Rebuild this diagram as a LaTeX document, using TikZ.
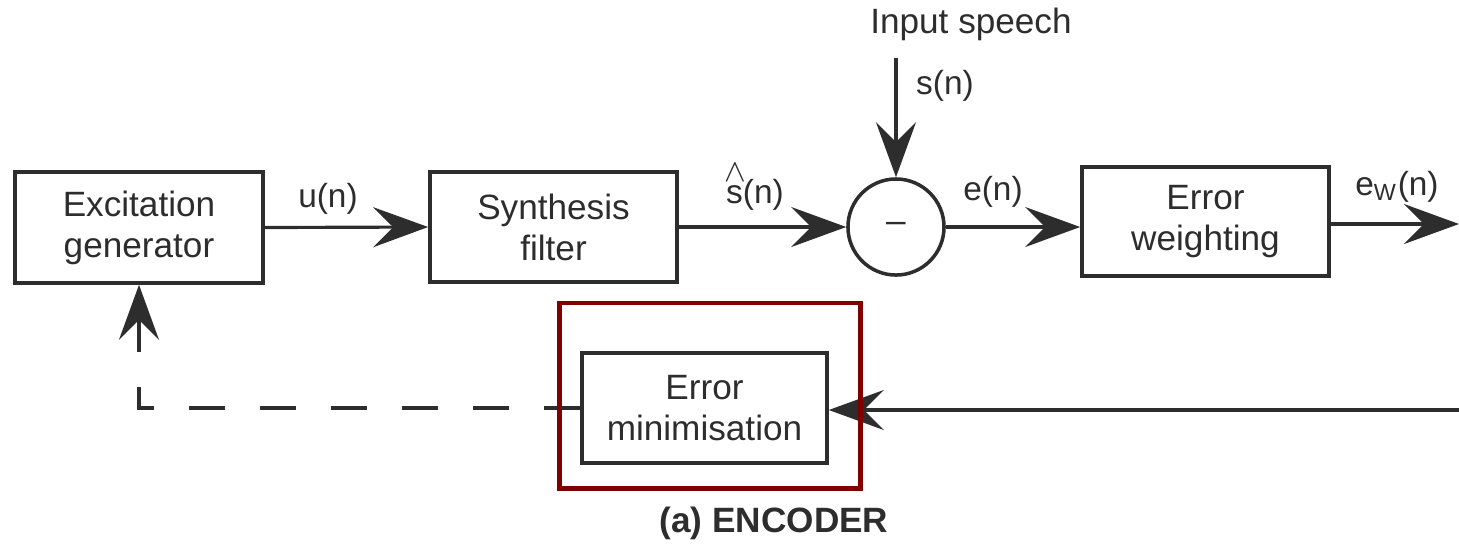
\documentclass[tikz,border=0pt]{standalone}
\usepackage{fontspec}
\setmainfont{Liberation Sans}
\usetikzlibrary{arrows.meta}
\definecolor{redbox}{RGB}{128,0,0}
\definecolor{ink}{RGB}{45,45,45}
\begin{document}
\begin{tikzpicture}[x=0.01cm,y=-0.01cm,
  blk/.style={draw=ink, line width=1pt, align=center, text=ink, inner sep=0pt,
    font=\fontsize{10}{11.7}\selectfont},
  sumnode/.style={draw=ink, line width=1pt, circle, minimum size=0.96cm, inner sep=0pt,
    text=ink, font=\fontsize{10}{12}\selectfont},
  sig/.style={draw=ink, line width=0.9pt, -{Stealth[length=0.55cm,width=0.4cm,inset=0.2cm]}},
  fbdash/.style={draw=ink, line width=0.9pt, dash pattern=on 0.36cm off 0.35cm,
    -{Stealth[length=0.55cm,width=0.4cm,inset=0.2cm]}},
  lbl/.style={font=\fontsize{9.5}{11}\selectfont, text=ink, inner sep=0pt},
  hilite/.style={draw=redbox, line width=1.4pt, minimum width=3.0cm, minimum height=1.85cm, inner sep=0pt},
]
\useasboundingbox (0,0) rectangle (1459,547);

% blocks
\node[blk, minimum width=2.48cm, minimum height=1.11cm] (exc) at (139,227.5) {Excitation\\generator};
\node[blk, minimum width=2.47cm, minimum height=1.10cm] (syn) at (553.5,227) {Synthesis\\filter};
\node[sumnode] (sum) at (896,227) {--};
\node[blk, minimum width=2.47cm, minimum height=1.09cm] (errw) at (1205.5,221.5) {Error\\weighting};
\node[blk, minimum width=2.45cm, minimum height=1.10cm] (errmin) at (704.5,408) {Error\\minimisation};

% free ends
\coordinate (in) at (896,58);
\coordinate (out) at (1459,224);
\coordinate (fb) at (1459,410);

% connectors
\draw[sig] (exc.east) -- (syn.west);
\draw[sig] (syn.east) -- (sum.west);
\draw[sig] (sum.east) -- (sum.east -| errw.west);
\draw[sig] (errw.east |- out) -- (out);
\draw[sig] (in) -- (sum.north);
\draw[sig] (fb) -- (fb -| errmin.east);
\draw[fbdash] (errmin.west) -| (exc.south);

% labels
\node[lbl] (un) at (328,199) {u(n)};
\node[lbl] (shat) at (755,187) {\makebox[0pt][l]{\kern-0.05em\raisebox{1.25ex}{$\wedge$}}s(n)};
\node[lbl] (en) at (993,192) {e(n)};
\node[lbl] (ewn) at (1397,187) {e\textsubscript{W}(n)};
\node[lbl] (sn) at (945,86) {s(n)};
\node[lbl, font=\fontsize{10}{12}\selectfont] (inp) at (971,24) {Input speech};
\node[lbl, font=\fontsize{10}{12}\bfseries] (cap) at (774,523) {(a) ENCODER};

% highlight box
\node[hilite] (hl) at (710,395.5) {};
\end{tikzpicture}
\end{document}
